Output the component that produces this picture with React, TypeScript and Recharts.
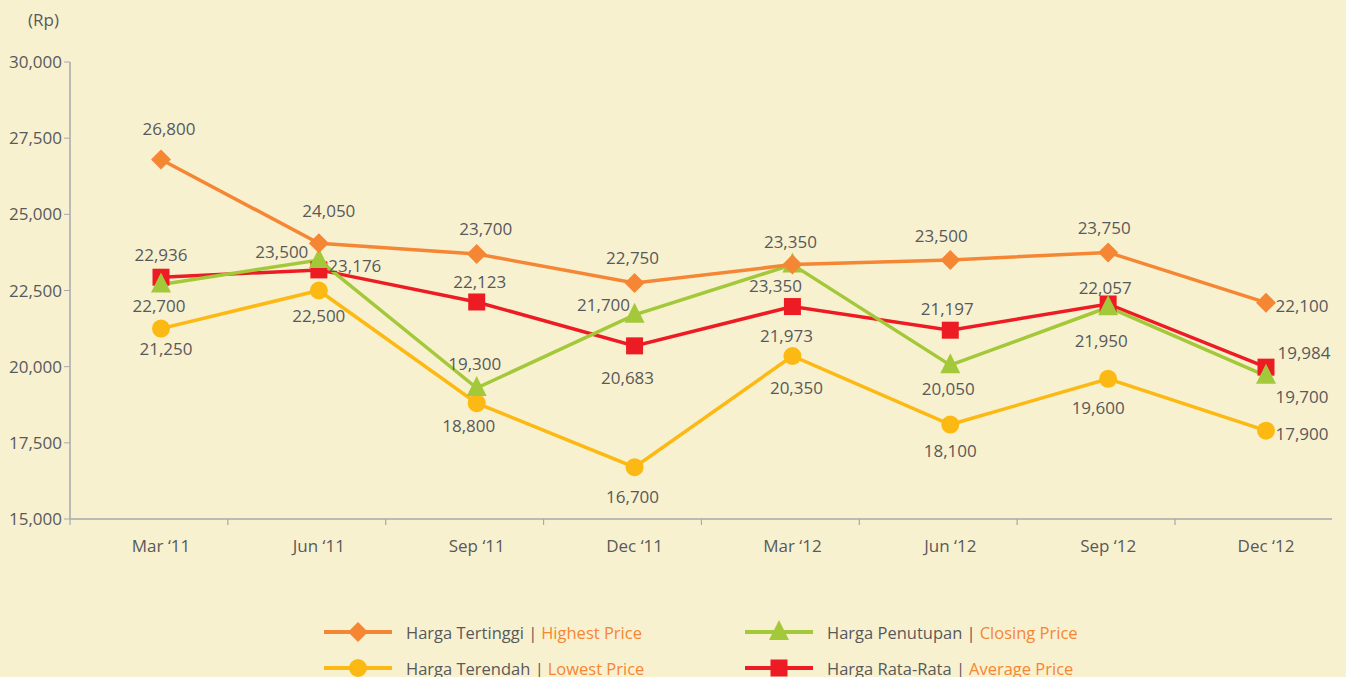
import React from "react";
import { LineChart, Line, XAxis, YAxis, LabelList } from "recharts";

const periods = ["Mar \u201811", "Jun \u201811", "Sep \u201811", "Dec \u201811", "Mar \u201812", "Jun \u201812", "Sep \u201812", "Dec \u201812"];
const highest = [26800, 24050, 23700, 22750, 23350, 23500, 23750, 22100];
const lowest = [21250, 22500, 18800, 16700, 20350, 18100, 19600, 17900];
const closing = [22700, 23500, 19300, 21700, 23350, 20050, 21950, 19700];
const average = [22936, 23176, 22123, 20683, 21973, 21197, 22057, 19984];
const yTicks = [15000, 17500, 20000, 22500, 25000, 27500, 30000];

// where each value label sits relative to its point (dx, dy)
const highestLabelPos = [[8, -30], [10, -32], [9, -25], [-2, -25], [-2, -23], [-9, -24], [-4, -24], [36, 3]];
const lowestLabelPos = [[5, 20], [0, 26], [-8, 23], [-2, 30], [4, 32], [0, 26], [-10, 29], [36, 3]];
const closingLabelPos = [[-2, 22], [-37, -8], [-2, -24], [-31, -10], [-17, 21], [-2, 24], [-7, 34], [36, 21]];
const averageLabelPos = [[0, -22], [36, -4], [3, -20], [-7, 32], [-6, 29], [-3, -21], [-3, -16], [38, -14]];

const data = periods.map((p, i) => ({
  period: p,
  highest: highest[i],
  lowest: lowest[i],
  closing: closing[i],
  average: average[i],
}));

const BG = "#f8f1cf";
const TEXT = "#58595b";
const AXIS = "#a7a9ac";
const ORANGE = "#f58634";
const YELLOW = "#fdb913";
const GREEN = "#a3c93a";
const RED = "#ed1c24";
const FONT = "'Open Sans', sans-serif";

const W = 1346;
const H = 677;
const RIGHT = 14;
const PAD_L = 91; // first point sits 91px in from the axis start
const PAD_R = 66;

type Shape = "diamond" | "circle" | "triangle" | "square";

function marker(shape: Shape, cx: number, cy: number, color: string, key?: string | number) {
  if (shape === "diamond") {
    const r = 10;
    return <path key={key} d={`M${cx},${cy - r}L${cx + r},${cy}L${cx},${cy + r}L${cx - r},${cy}Z`} fill={color} />;
  }
  if (shape === "circle") return <circle key={key} cx={cx} cy={cy} r={9} fill={color} />;
  if (shape === "triangle") {
    return <path key={key} d={`M${cx},${cy - 12}L${cx + 10},${cy + 8}L${cx - 10},${cy + 8}Z`} fill={color} />;
  }
  return <rect key={key} x={cx - 8.5} y={cy - 8.5} width={17} height={17} fill={color} />;
}

const dotFor = (shape: Shape, color: string) => (p: any) => {
  if (p.cx == null || p.cy == null) return <g key={p.index} />;
  return marker(shape, p.cx, p.cy, color, `${shape}-${p.index}`);
};

const labelFor = (pos: number[][]) => (p: any) => {
  const { x, y, index, value } = p;
  if (x == null || y == null) return null;
  const [dx, dy] = pos[index] || [0, -20];
  return (
    <text x={x + dx} y={y + dy} dy="0.35em" textAnchor="middle" fontSize={17} fill={TEXT} fontFamily={FONT}>
      {Number(value).toLocaleString("en-US")}
    </text>
  );
};

const XTick = (props: any) => {
  const { x, y, payload } = props;
  return (
    <g>
      <line x1={x - PAD_L} x2={x - PAD_L} y1={y} y2={y + 6} stroke={AXIS} strokeWidth={1.2} />
      <text x={x} y={y + 33} textAnchor="middle" fontSize={17} fill={TEXT} fontFamily={FONT}>
        {payload.value}
      </text>
    </g>
  );
};

const legendItems = [
  { shape: "diamond" as Shape, color: ORANGE, id: "Harga Tertinggi", en: "Highest Price", left: 324, top: 632 },
  { shape: "circle" as Shape, color: YELLOW, id: "Harga Terendah", en: "Lowest Price", left: 324, top: 668 },
  { shape: "triangle" as Shape, color: GREEN, id: "Harga Penutupan", en: "Closing Price", left: 745, top: 632 },
  { shape: "square" as Shape, color: RED, id: "Harga Rata-Rata", en: "Average Price", left: 745, top: 668 },
];

export default function App() {
  return (
    <div style={{ position: "absolute", left: 0, top: 0, width: W, height: H, background: BG, overflow: "hidden", fontFamily: FONT }}>
      <div style={{ position: "absolute", left: 28, top: 8, fontSize: 17, color: TEXT }}>(Rp)</div>
      <LineChart width={W} height={H} data={data} margin={{ top: 62, right: RIGHT, bottom: 118, left: 0 }}>
        <XAxis
          dataKey="period"
          height={40}
          padding={{ left: PAD_L, right: PAD_R }}
          axisLine={{ stroke: AXIS, strokeWidth: 1.5 }}
          tickLine={false}
          tickSize={0}
          tickMargin={0}
          tick={<XTick />}
          interval={0}
        />
        <YAxis
          width={70}
          domain={[15000, 30000]}
          ticks={yTicks}
          axisLine={{ stroke: AXIS, strokeWidth: 1.5 }}
          tickLine={{ stroke: AXIS }}
          tickSize={6}
          tick={{ fill: TEXT, fontSize: 17, fontFamily: FONT }}
          tickFormatter={(v: number) => v.toLocaleString("en-US")}
        />
        <Line dataKey="lowest" stroke={YELLOW} strokeWidth={3.5} dot={dotFor("circle", YELLOW)} activeDot={false} isAnimationActive={false}>
          <LabelList dataKey="lowest" content={labelFor(lowestLabelPos)} />
        </Line>
        <Line dataKey="average" stroke={RED} strokeWidth={3.5} dot={dotFor("square", RED)} activeDot={false} isAnimationActive={false}>
          <LabelList dataKey="average" content={labelFor(averageLabelPos)} />
        </Line>
        <Line dataKey="closing" stroke={GREEN} strokeWidth={3.5} dot={dotFor("triangle", GREEN)} activeDot={false} isAnimationActive={false}>
          <LabelList dataKey="closing" content={labelFor(closingLabelPos)} />
        </Line>
        <Line dataKey="highest" stroke={ORANGE} strokeWidth={3.5} dot={dotFor("diamond", ORANGE)} activeDot={false} isAnimationActive={false}>
          <LabelList dataKey="highest" content={labelFor(highestLabelPos)} />
        </Line>
      </LineChart>
      {legendItems.map((it) => (
        <div key={it.id} style={{ position: "absolute", left: it.left, top: it.top - 12, height: 24, display: "flex", alignItems: "center", fontSize: 16.5, color: TEXT, whiteSpace: "nowrap" }}>
          <svg width={70} height={24} style={{ marginRight: 12 }}>
            <line x1={0} x2={68} y1={12} y2={12} stroke={it.color} strokeWidth={4} />
            {marker(it.shape, 34, 12, it.color)}
          </svg>
          <span>{it.id} |</span>
          <span style={{ color: ORANGE, marginLeft: 4 }}>{it.en}</span>
        </div>
      ))}
    </div>
  );
}
